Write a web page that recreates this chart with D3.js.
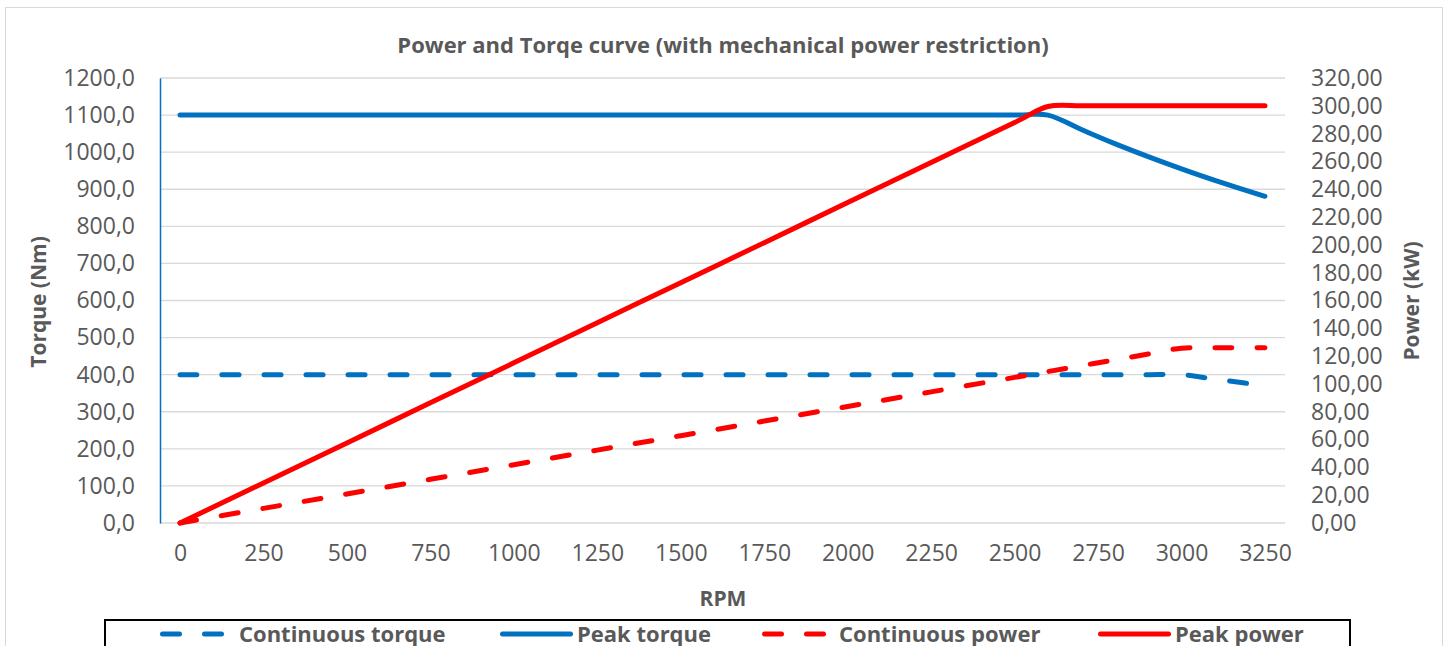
<!DOCTYPE html>
<html>
<head>
<meta charset="utf-8">
<script src="https://cdn.jsdelivr.net/npm/d3@7"></script>
<style>
  body { margin: 0; background: #fff; }
  svg { display: block; font-family: "Open Sans", Lato, sans-serif; }
</style>
</head>
<body>
<svg id="chart" width="1450" height="646"></svg>
<script>
// data
const rpm = [0, 250, 500, 750, 1000, 1250, 1500, 1750, 2000, 2250, 2500, 2600, 2700, 2800, 2900, 3000, 3100, 3250];
const continuousTorque = [400, 400, 400, 400, 400, 400, 400, 400, 400, 400, 400, 400, 400, 400, 400, 400, 388, 370];
const peakTorque = [1100, 1100, 1100, 1100, 1100, 1100, 1100, 1100, 1100, 1100, 1100, 1100, 1061, 1023, 988, 955, 924, 881];
const continuousPower = [0, 10.5, 20.9, 31.4, 41.9, 52.4, 62.8, 73.3, 83.8, 94.3, 104.7, 108.9, 113.1, 117.3, 121.5, 125.7, 126, 126];
const peakPower = [0, 28.8, 57.6, 86.4, 115.2, 144.0, 172.8, 201.6, 230.4, 259.2, 288.0, 299.5, 300, 300, 300, 300, 300, 300];

const xTicks = d3.range(0, 3251, 250);
const torqueTicks = d3.range(0, 1201, 100);
const powerTicks = d3.range(0, 321, 20);

const series = [
  { name: "Continuous torque", values: continuousTorque, axis: "left", color: "#0070C0", dashed: true },
  { name: "Peak torque", values: peakTorque, axis: "left", color: "#0070C0", dashed: false },
  { name: "Continuous power", values: continuousPower, axis: "right", color: "#FF0000", dashed: true },
  { name: "Peak power", values: peakPower, axis: "right", color: "#FF0000", dashed: false }
];

const svg = d3.select("#chart");
const plot = { left: 160, right: 1285, top: 78, bottom: 523 };
const textColor = "#595959";
const gridColor = "#D9D9D9";

// outer chart frame
svg.append("rect")
  .attr("x", 5.5).attr("y", 7.5)
  .attr("width", 1437).attr("height", 660)
  .attr("fill", "none").attr("stroke", gridColor).attr("stroke-width", 1);

const x = d3.scaleLinear().domain([-60, 3310]).range([plot.left, plot.right]);
const yL = d3.scaleLinear().domain([0, 1200]).range([plot.bottom, plot.top]);
const yR = d3.scaleLinear().domain([0, 320]).range([plot.bottom, plot.top]);

const fmt1 = v => d3.format(".1f")(v).replace(".", ",");
const fmt2 = v => d3.format(".2f")(v).replace(".", ",");

// gridlines
svg.append("g")
  .selectAll("line")
  .data(torqueTicks)
  .join("line")
  .attr("x1", plot.left).attr("x2", plot.right)
  .attr("y1", d => yL(d)).attr("y2", d => yL(d))
  .attr("stroke", gridColor).attr("stroke-width", 1.3);

// left axis
const leftAxis = svg.append("g")
  .attr("transform", `translate(${plot.left},0)`)
  .call(d3.axisLeft(yL).tickValues(torqueTicks).tickFormat(fmt1).tickSize(0).tickPadding(25));
leftAxis.select(".domain").attr("stroke", "#0070C0").attr("stroke-width", 1.5);
leftAxis.selectAll("text").attr("fill", textColor).style("font-size", "23px").style("font-family", "'Open Sans', sans-serif");

// right axis
const rightAxis = svg.append("g")
  .attr("transform", `translate(${plot.right},0)`)
  .call(d3.axisRight(yR).tickValues(powerTicks).tickFormat(fmt2).tickSize(0).tickPadding(26));
rightAxis.select(".domain").remove();
rightAxis.selectAll("text").attr("fill", textColor).style("font-size", "23px").style("font-family", "'Open Sans', sans-serif");

// bottom axis
const bottomAxis = svg.append("g")
  .attr("transform", `translate(0,${plot.bottom})`)
  .call(d3.axisBottom(x).tickValues(xTicks).tickFormat(d3.format("d")).tickSize(0).tickPadding(22));
bottomAxis.select(".domain").remove();
bottomAxis.selectAll("text").attr("fill", textColor).style("font-size", "23px").style("font-family", "'Open Sans', sans-serif");

// lines
const rows = rpm.map((r, i) => ({ r, i }));
series.forEach(s => {
  const y = s.axis === "left" ? yL : yR;
  const line = d3.line()
    .x(d => x(d.r))
    .y(d => y(s.values[d.i]))
    .curve(d3.curveCardinal.tension(0));
  svg.append("path")
    .datum(rows)
    .attr("d", line)
    .attr("fill", "none")
    .attr("stroke", s.color)
    .attr("stroke-width", 5)
    .attr("stroke-linecap", "round")
    .attr("stroke-linejoin", "round")
    .attr("stroke-dasharray", s.dashed ? "17,25" : null);
});

// titles
svg.append("text")
  .attr("x", 723).attr("y", 53)
  .attr("text-anchor", "middle")
  .attr("fill", textColor)
  .style("font-size", "22px").style("font-weight", "bold")
  .text("Power and Torqe curve (with mechanical power restriction)");

svg.append("text")
  .attr("transform", "translate(46,302) rotate(-90)")
  .attr("text-anchor", "middle")
  .attr("fill", textColor)
  .style("font-size", "21px").style("font-weight", "bold")
  .text("Torque (Nm)");

svg.append("text")
  .attr("transform", "translate(1419,301) rotate(-90)")
  .attr("text-anchor", "middle")
  .attr("fill", textColor)
  .style("font-size", "21px").style("font-weight", "bold")
  .text("Power (kW)");

svg.append("text")
  .attr("x", 723).attr("y", 606)
  .attr("text-anchor", "middle")
  .attr("fill", textColor)
  .style("font-size", "21px").style("font-weight", "bold")
  .text("RPM");

// legend
svg.append("rect")
  .attr("x", 105).attr("y", 620)
  .attr("width", 1245).attr("height", 60)
  .attr("fill", "#fff").attr("stroke", "#000").attr("stroke-width", 2);

const legendLine = [[160, 227], [500, 573], [762, 829], [1098, 1171]];
const legendText = [239, 577, 839, 1175];
const legend = svg.append("g");
series.forEach((s, i) => {
  const [a, b] = legendLine[i];
  legend.append("line")
    .attr("x1", a + 2.5).attr("x2", b - 2.5)
    .attr("y1", 634).attr("y2", 634)
    .attr("stroke", s.color)
    .attr("stroke-width", 5)
    .attr("stroke-linecap", "round")
    .attr("stroke-dasharray", s.dashed ? "17,25" : null);
  legend.append("text")
    .attr("x", legendText[i]).attr("y", 642)
    .attr("fill", textColor)
    .style("font-size", "22px").style("font-weight", "bold")
    .text(s.name);
});
</script>
</body>
</html>
